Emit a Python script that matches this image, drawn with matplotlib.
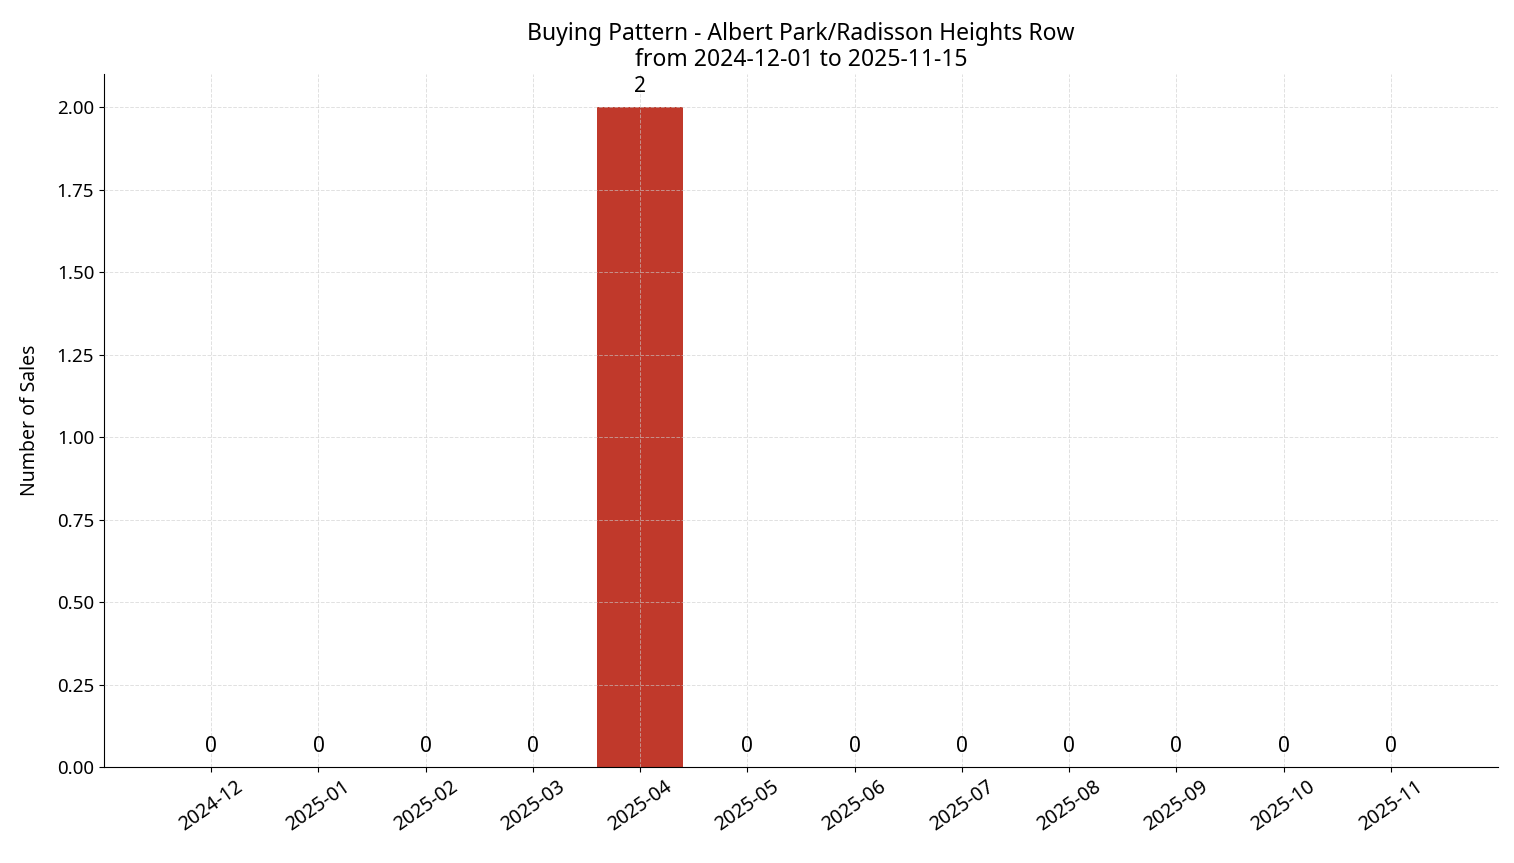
import matplotlib
matplotlib.use("Agg")
import matplotlib.pyplot as plt
plt.rcParams['font.family'] = ['Noto Sans', 'DejaVu Sans']

months = ["2024-12","2025-01","2025-02","2025-03","2025-04","2025-05","2025-06",
          "2025-07","2025-08","2025-09","2025-10","2025-11"]
sales = [0,0,0,0,2,0,0,0,0,0,0,0]

fig = plt.figure(figsize=(15.14, 8.63), dpi=100)
ax = fig.add_axes([104/1514, 1-767/863, (1498-104)/1514, (767-74)/863])
x = list(range(len(months)))
ax.bar(x, sales, width=0.8, color="#c0392b")
for xi, v in zip(x, sales):
    ax.text(xi, v + 0.03, str(v), ha="center", va="bottom", fontsize=15)
ax.set_xlim(-1, 12)
ax.set_ylim(0, 2.1)
ax.set_xticks(x)
ax.set_xticklabels(months, rotation=35, ha="center", fontsize=14)
ax.tick_params(axis="y", labelsize=13.5)
ax.set_yticks([0,0.25,0.5,0.75,1.0,1.25,1.5,1.75,2.0])
ax.yaxis.set_major_formatter(matplotlib.ticker.FormatStrFormatter("%.2f"))
ax.set_ylabel("Number of Sales", fontsize=14, labelpad=12)
ax.set_title("Buying Pattern - Albert Park/Radisson Heights Row\nfrom 2024-12-01 to 2025-11-15", fontsize=16.5, linespacing=1.1)
ax.grid(True, linestyle="--", color="#cccccc", linewidth=0.7, alpha=0.6)
ax.set_axisbelow(False)
ax.spines["top"].set_visible(False)
ax.spines["right"].set_visible(False)
fig.savefig("out.png", dpi=100)
